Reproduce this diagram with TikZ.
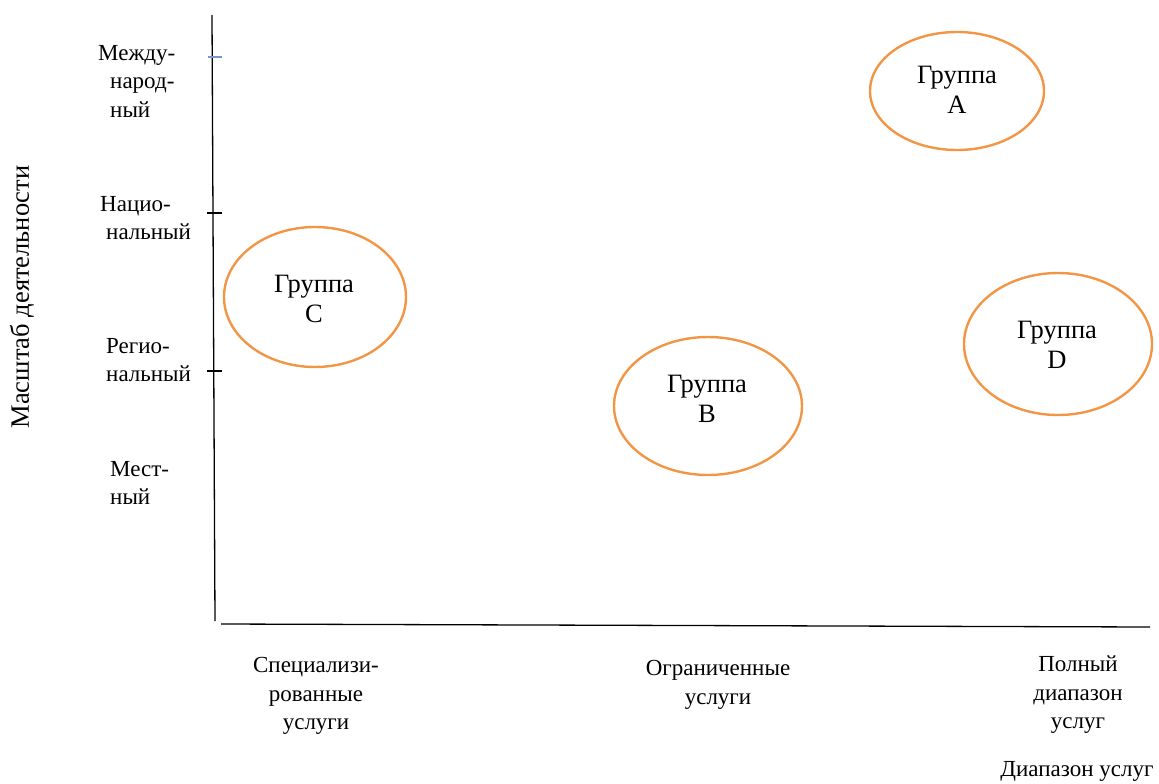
\documentclass[tikz,border=0pt]{standalone}
\usepackage{fontspec}
\setmainfont{Liberation Serif}
\usepackage{tikz}

\definecolor{grouporange}{RGB}{242,150,70}
\definecolor{tickblue}{RGB}{120,150,205}

\tikzset{
  lbl/.style={font=\fontsize{23}{28.5}\selectfont, inner sep=0pt},
  grouplbl/.style={font=\fontsize{26.5}{29.5}\selectfont, inner sep=0pt, align=center},
}

\begin{document}
\begin{tikzpicture}[x=1pt,y=-1pt]
\useasboundingbox (0,0) rectangle (1159,784);

% axes
\draw[line width=1.3pt] (212,15) -- (215,621);
\draw[line width=1.3pt] (221,624) -- (1150,627);

\draw[tickblue, line width=1.3pt] (208,57) -- (222,57);
\foreach \y in {213,371}
\draw[line width=1.3pt] (207,\y) -- (222,\y);

% groups
\draw[grouporange, line width=2.4pt] (957,91) ellipse (87pt and 59pt);
\draw[grouporange, line width=2.4pt] (315,297) ellipse (91pt and 70pt);
\draw[grouporange, line width=2.4pt] (708,406) ellipse (94pt and 69pt);
\draw[grouporange, line width=2.4pt] (1058,344) ellipse (94pt and 71pt);

\node[grouplbl] (grA) at (957,90) {Группа\\A};
\node[grouplbl] (grC) at (314,299) {Группа\\C};
\node[grouplbl] (grB) at (707,399) {Группа\\B};
\node[grouplbl] (grD) at (1057,345) {Группа\\D};

% scale of activity
\node[lbl, align=left, anchor=west] (intl) at (98,81) {Между-\\\hspace*{12pt}народ-\\\hspace*{12pt}ный};
\node[lbl, align=left, anchor=west] (natl) at (100,218) {Нацио-\\\hspace*{6pt}нальный};
\node[lbl, align=left, anchor=west] (regl) at (106,360) {Регио-\\нальный};
\node[lbl, align=left, anchor=west] (locl) at (110,483) {Мест-\\ный};
\node[grouplbl, rotate=90] (ytitle) at (22,297) {Масштаб деятельности};

% range of services
\node[lbl, align=center] (spec) at (316,696) {Специализи-\\рованные\\услуги};
\node[lbl, align=center] (limit) at (718,685) {Ограниченные\\услуги};
\node[lbl, align=center] (full) at (1078,695) {Полный\\диапазон\\услуг};
\node[lbl] (xtitle) at (1077,771) {Диапазон услуг};
\end{tikzpicture}
\end{document}
